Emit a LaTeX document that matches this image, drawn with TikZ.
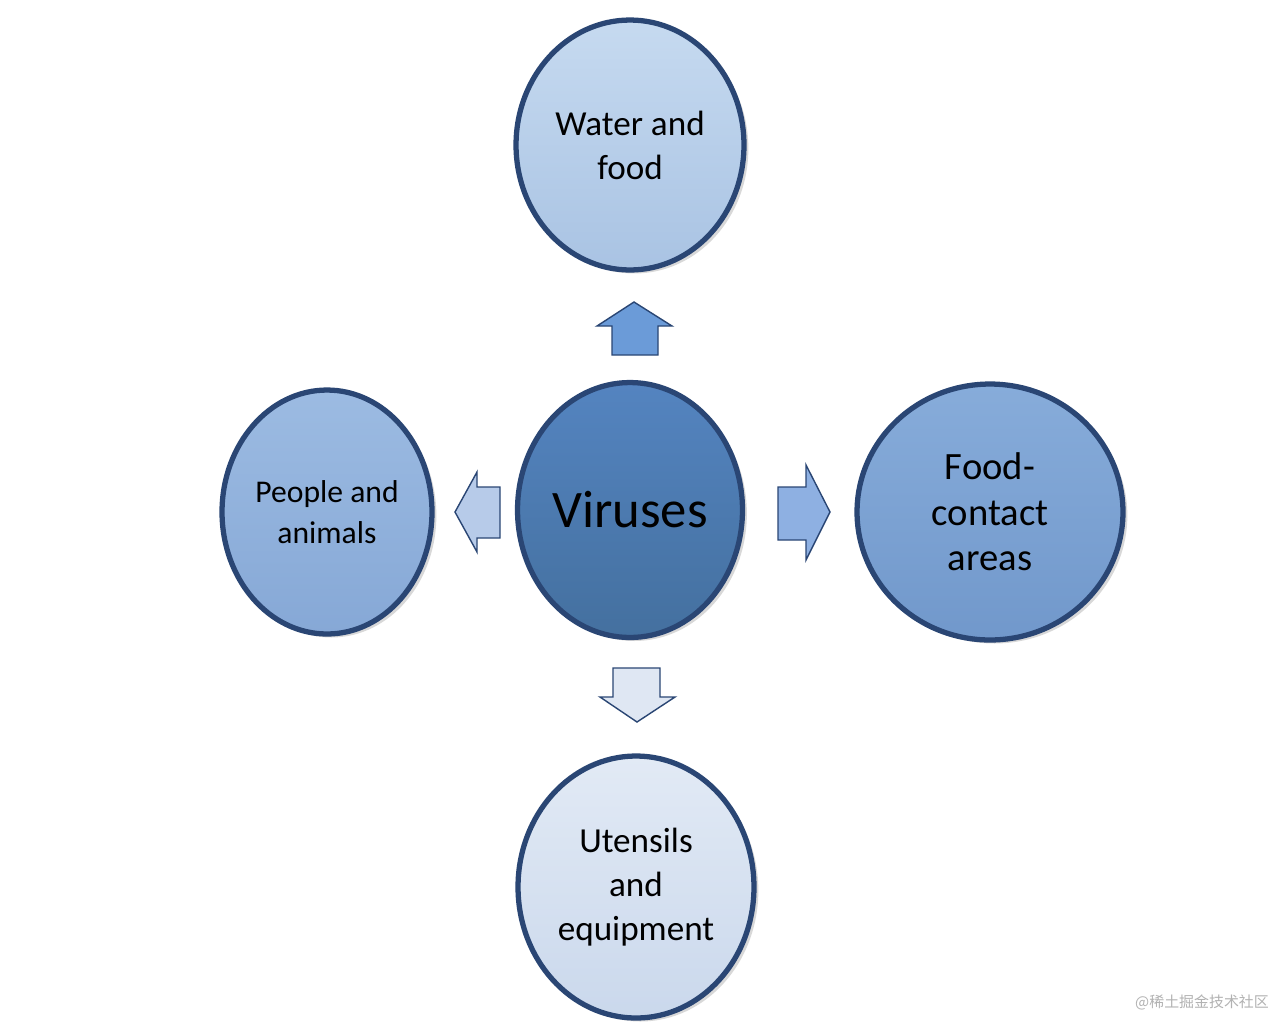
\documentclass[tikz,border=0pt]{standalone}
\usepackage{fontspec}
\setmainfont{Carlito}
\newfontfamily\cjk{Noto Sans CJK SC}
\usetikzlibrary{shapes.geometric,shadows}

\definecolor{rimblue}{HTML}{2A4674}
\definecolor{waterhi}{HTML}{C6DAF0}
\definecolor{waterlo}{HTML}{A9C3E3}
\definecolor{virushi}{HTML}{5484C0}
\definecolor{viruslo}{HTML}{44709F}
\definecolor{peoplehi}{HTML}{9CBBE2}
\definecolor{peoplelo}{HTML}{86A8D6}
\definecolor{foodhi}{HTML}{87ACDA}
\definecolor{foodlo}{HTML}{7198CB}
\definecolor{utenhi}{HTML}{E2EAF5}
\definecolor{utenlo}{HTML}{CAD8EC}
\definecolor{upfill}{HTML}{6B9BD8}
\definecolor{leftfill}{HTML}{B7CBE9}
\definecolor{rightfill}{HTML}{8EB0E2}
\definecolor{downfill}{HTML}{DFE7F3}

\begin{document}
\begin{tikzpicture}[x=0.02cm,y=-0.02cm,
  disc/.style={ellipse,draw=rimblue,line width=3pt,inner sep=0pt,align=center,
    drop shadow={shadow xshift=2.5pt,shadow yshift=-2pt,opacity=0.3}},
  blockarr/.style={draw=rimblue,line width=0.8pt,line join=miter}]
  \useasboundingbox[fill=white] (0,0) rectangle (1280,1022);
  % kruhy
  \node[disc,top color=virushi,bottom color=viruslo,minimum width=4.5cm,minimum height=5.1cm,
    font=\fontsize{30}{34}\selectfont] (virus) at (630,510) {Viruses};
  \node[disc,top color=waterhi,bottom color=waterlo,minimum width=4.56cm,minimum height=5cm,
    font=\fontsize{20}{25}\selectfont] (water) at (630,145) {Water and\\food};
  \node[disc,top color=peoplehi,bottom color=peoplelo,minimum width=4.2cm,minimum height=4.88cm,
    font=\fontsize{18}{23}\selectfont] (people) at (327,512) {People and\\animals};
  \node[disc,top color=foodhi,bottom color=foodlo,minimum width=5.32cm,minimum height=5.12cm,
    font=\fontsize{22}{26}\selectfont] (contact) at (990,512) {Food-\\contact\\areas};
  \node[disc,top color=utenhi,bottom color=utenlo,minimum width=4.72cm,minimum height=5.24cm,
    font=\fontsize{20}{25}\selectfont] (utensils) at (636,887) {Utensils\\and\\equipment};
  % sipky
  \draw[blockarr,fill=upfill] (612,355) -- (612,326) -- (597,326) -- (634,302) -- (672,326) -- (658,326) -- (658,355) -- cycle;
  \draw[blockarr,fill=leftfill] (500,487) -- (477,487) -- (477,472) -- (455,512) -- (477,552) -- (477,538) -- (500,538) -- cycle;
  \draw[blockarr,fill=rightfill] (778,487) -- (806,487) -- (806,465) -- (830,512) -- (806,560) -- (806,540) -- (778,540) -- cycle;
  \draw[blockarr,fill=downfill] (613,668) -- (660,668) -- (660,697) -- (675,697) -- (637,722) -- (600,697) -- (613,697) -- cycle;
  % vodoznak
  \node[anchor=east,text=gray!60,font=\cjk\fontsize{8.5}{10}\selectfont] (credit) at (1275,1002) {@稀土掘金技术社区};
\end{tikzpicture}
\end{document}
